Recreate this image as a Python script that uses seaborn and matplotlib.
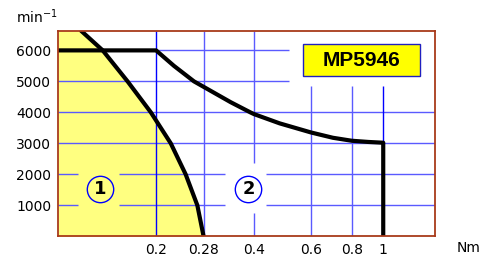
import matplotlib
matplotlib.use("Agg")
import matplotlib.pyplot as plt
from matplotlib.patches import Rectangle
import seaborn as sns
import pandas as pd

# limit curves (torque Nm, speed min^-1)
curve1_nm = [0.1175, 0.137, 0.1634, 0.1927, 0.2219, 0.2466, 0.2679, 0.28]
curve1_rpm = [6635, 6000, 5000, 4000, 3000, 2000, 1000, 0]

curve2_nm = [0.1, 0.2, 0.227, 0.2616, 0.339, 0.39, 0.4, 0.48, 0.6, 0.7, 0.8, 0.9, 1.0, 1.0]
curve2_rpm = [6000, 6000, 5500, 5000, 4330, 4000, 3945, 3645, 3350, 3180, 3084, 3045, 3020, 0]

x_ticks = [0.2, 0.28, 0.4, 0.6, 0.8, 1]
x_labels = ["0.2", "0.28", "0.4", "0.6", "0.8", "1"]
y_ticks = [1000, 2000, 3000, 4000, 5000, 6000]
model = "MP5946"

sns.set_style("white")
plt.rcParams["font.family"] = ["DejaVu Sans"]

fig = plt.figure(figsize=(4.96, 2.57), dpi=100)
ax = fig.add_axes([0.1175, 0.0805, 0.7589, 0.80])
ax.set_xscale("log")
xmin, xmax = 0.1, 1.44
ymax = 6635
ax.set_xlim(xmin, xmax)
ax.set_ylim(0, ymax)

# yellow area for region 1
ax.fill_betweenx(curve1_rpm, xmin, curve1_nm, color="#ffff80", lw=0, zorder=1)

# grid, partly broken like the original
light = "#5a5aff"
dark = "#0000ff"
glw = 1.0
for y in [6000, 5000]:
    ax.hlines(y, xmin, 0.514, color=light, lw=glw, zorder=2)
for y in [4000, 3000]:
    ax.hlines(y, xmin, xmax, color=light, lw=glw, zorder=2)
for y in [2000, 1000]:
    for a, b in [(xmin, 0.115), (0.1537, 0.327), (0.437, xmax)]:
        ax.hlines(y, a, b, color=light, lw=glw, zorder=2)
ax.vlines(0.2, 0, ymax, color=dark, lw=glw, zorder=2)
ax.vlines(0.28, 0, ymax, color=light, lw=glw, zorder=2)
ax.vlines(0.4, 0, 750, color=light, lw=glw, zorder=2)
ax.vlines(0.4, 2365, ymax, color=light, lw=glw, zorder=2)
for x in [0.6, 0.8]:
    ax.vlines(x, 0, 4850, color=light, lw=glw, zorder=2)
ax.vlines(1.0, 0, 4850, color=dark, lw=glw, zorder=2)

d1 = pd.DataFrame({"nm": curve1_nm, "rpm": curve1_rpm})
d2 = pd.DataFrame({"nm": curve2_nm, "rpm": curve2_rpm})
sns.lineplot(data=d1, x="nm", y="rpm", sort=False, estimator=None, color="black",
             lw=3, ax=ax, zorder=4)
sns.lineplot(data=d2, x="nm", y="rpm", sort=False, estimator=None, color="black",
             lw=3, ax=ax, zorder=4)

# circled region labels
for xc, lab in [(0.1344, "1"), (0.3847, "2")]:
    ax.plot([xc], [1516], marker="o", ms=19, mfc="none", mec="#0000ff", mew=1.0, zorder=5)
    ax.text(xc, 1516, lab, ha="center", va="center", fontsize=13, fontweight="bold",
            color="black", zorder=6)

# model box
ax.add_patch(Rectangle((0.651, 0.781), 0.311, 0.153, transform=ax.transAxes,
                       fc="#ffff00", ec="#2020c0", lw=1.0, zorder=6))
ax.text(0.806, 0.857, model, transform=ax.transAxes, ha="center", va="center",
        fontsize=15, fontweight="bold", family=["Liberation Sans", "DejaVu Sans"],
        color="black", zorder=7)

ax.set_xticks(x_ticks)
ax.set_xticklabels(x_labels)
ax.xaxis.set_minor_locator(matplotlib.ticker.NullLocator())
ax.set_yticks(y_ticks)
ax.tick_params(axis="both", length=0, labelsize=10, pad=5, labelcolor="black")
ax.set_xlabel("")
ax.set_ylabel("")

for s in ax.spines.values():
    s.set_color("#a83a1a")
    s.set_linewidth(1.3)
    s.set_zorder(8)

fig.text(0.075, 0.935, "min$^{-1}$", ha="center", va="center", fontsize=10, color="black")
fig.text(0.945, 0.035, "Nm", ha="center", va="center", fontsize=10, color="black")

fig.savefig("out.png", dpi=100, facecolor="white")
